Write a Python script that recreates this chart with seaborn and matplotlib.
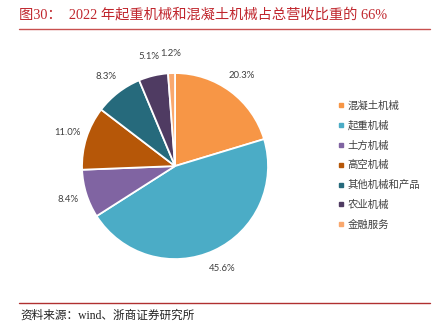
import matplotlib
matplotlib.use("Agg")
import matplotlib.pyplot as plt
from matplotlib.lines import Line2D
import seaborn as sns

# Revenue share by business segment, 2022
categories = ["混凝土机械", "起重机械", "土方机械", "高空机械", "其他机械和产品", "农业机械", "金融服务"]
shares = [20.3, 45.6, 8.4, 11.0, 8.3, 5.1, 1.2]
colors = ["#F79646", "#4BACC6", "#8064A2", "#B65708", "#266A7C", "#4F3B62", "#F9A86E"]

title_text = "图30：  2022 年起重机械和混凝土机械占总营收比重的 66%"
source_text = "资料来源：wind、浙商证券研究所"

sns.set_theme(style="white")
plt.rcParams["font.family"] = ["Noto Sans CJK SC", "DejaVu Sans"]

fig = plt.figure(figsize=(4.34, 3.33), dpi=100)
fig.patch.set_facecolor("white")

ax = fig.add_axes([0.189, 0.222, 0.4286, 0.5586])
wedges, texts, autotexts = ax.pie(
    shares,
    colors=sns.color_palette(colors),
    startangle=90,
    counterclock=False,
    autopct=lambda p: f"{p:.1f}%",
    pctdistance=1.21,
    wedgeprops=dict(edgecolor="white", linewidth=1.3),
    textprops=dict(fontsize=6.9, color="#404040", family=["Lato", "DejaVu Sans"]),
)
ax.set_xlim(-1, 1)
ax.set_ylim(-1, 1)
ax.set_aspect("equal")
ax.axis("off")

# Legend with small square markers
handles = [Line2D([0], [0], marker="s", linestyle="none", markersize=3.2,
                  markerfacecolor=c, markeredgecolor=c) for c in colors]
fig.legend(handles, categories, loc="upper left", bbox_to_anchor=(0.779, 0.697),
           frameon=False, fontsize=7.5, handlelength=0.6, handletextpad=0.3,
           labelspacing=0.92, borderpad=0, borderaxespad=0,
           labelcolor="#404040", prop=dict(family=["Noto Sans CJK SC"], weight="light", size=7.5))

# Title and rule
fig.text(19 / 434, 1 - 15 / 333, title_text, color="#C0262D", fontsize=10.3,
         family=["Liberation Serif", "Noto Sans CJK SC"], fontweight="light",
         va="center", ha="left")
fig.add_artist(Line2D([19 / 434, 430 / 434], [1 - 29 / 333, 1 - 29 / 333],
                      color="#C8504F", linewidth=1.0, transform=fig.transFigure))

# Bottom rule and source note
fig.add_artist(Line2D([19 / 434, 430 / 434], [1 - 303 / 333, 1 - 303 / 333],
                      color="#B03030", linewidth=1.0, transform=fig.transFigure))
fig.text(20 / 434, 1 - 316 / 333, source_text, color="#222222", fontsize=8.4,
         family=["Liberation Serif", "Noto Sans CJK SC"], fontweight="light",
         va="center", ha="left")

fig.savefig("out.png", dpi=100, facecolor="white")
